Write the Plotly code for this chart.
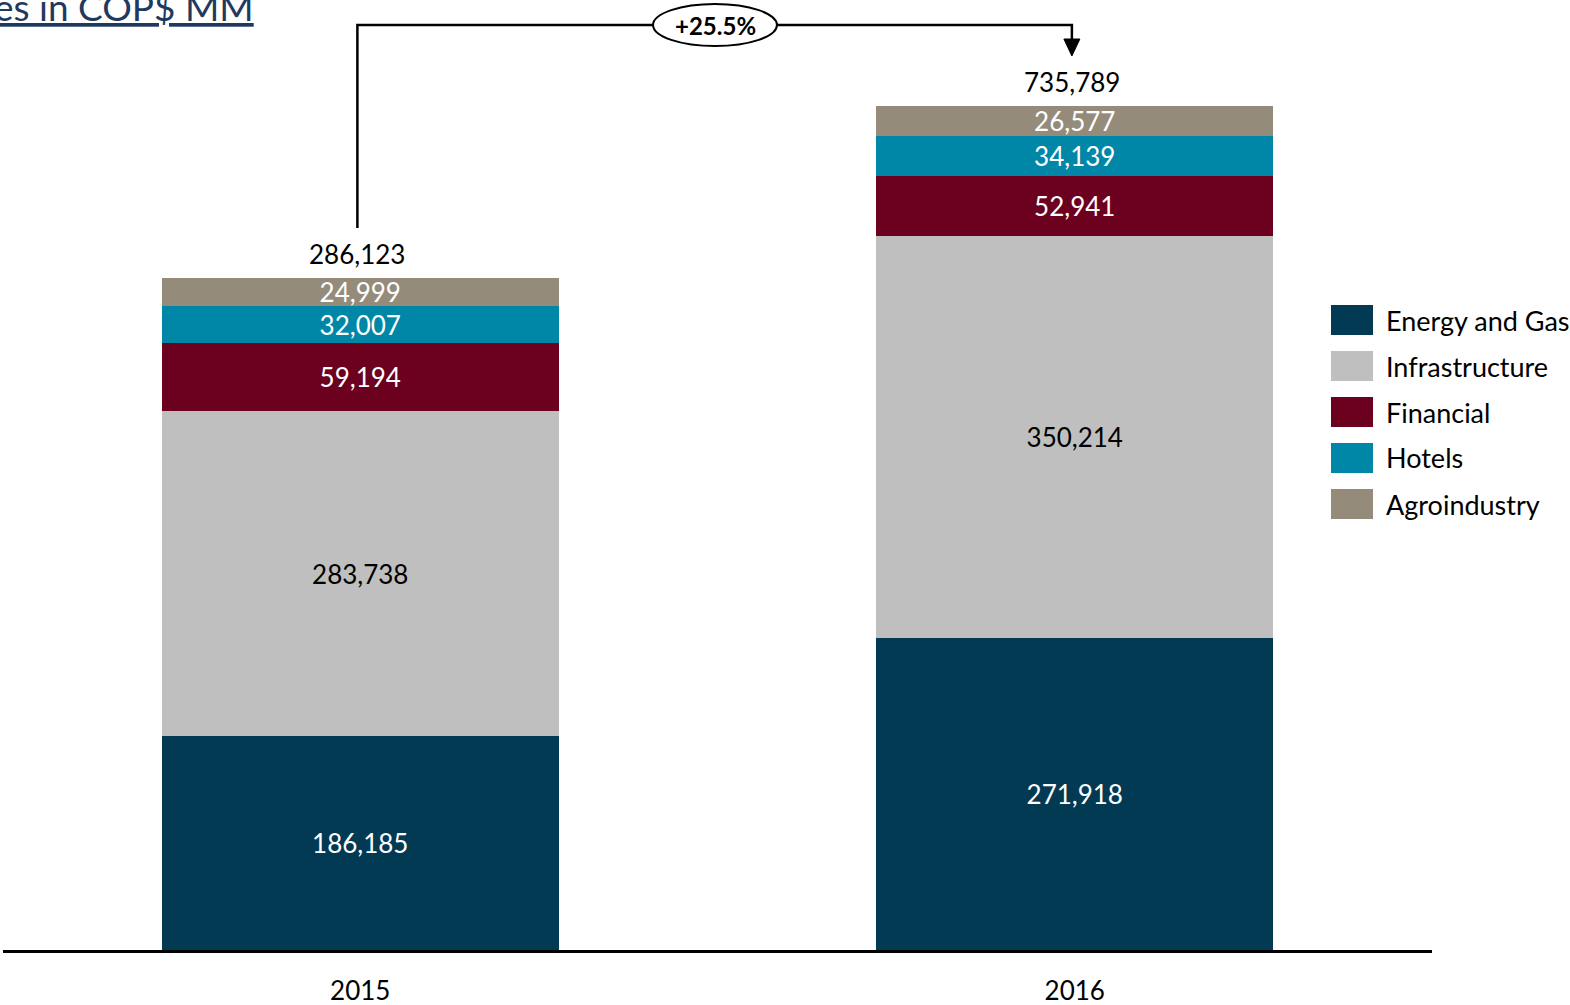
import plotly.graph_objects as go

# Revenue by business line, COP$ MM
years = ["2015", "2016"]
segments = ["Energy and Gas", "Infrastructure", "Financial", "Hotels", "Agroindustry"]
energy_gas = [186185, 271918]
infrastructure = [283738, 350214]
financial = [59194, 52941]
hotels = [32007, 34139]
agroindustry = [24999, 26577]
total_labels = ["286,123", "735,789"]
growth_label = "+25.5%"

colors = ["#023A54", "#BFBFBF", "#6B001F", "#0087A7", "#958B7B"]
label_colors = ["white", "black", "white", "white", "white"]
series = [energy_gas, infrastructure, financial, hotels, agroindustry]

totals = [sum(s[i] for s in series) for i in range(len(years))]

FONT = "Lato"
W, H = 1570, 1005
M_L, M_R, M_T, M_B = 3, 138, 0, 55
PLOT_H = H - M_T - M_B
ymax = totals[1] * PLOT_H / 844.0


def py(pix):
    """Vertical pixel position -> y data value."""
    return (PLOT_H - (pix - M_T)) * ymax / PLOT_H


def pxp(pix):
    """Horizontal pixel position -> paper x."""
    return (pix - M_L) / (W - M_L - M_R)


def pyp(pix):
    """Vertical pixel position -> paper y."""
    return (PLOT_H - (pix - M_T)) / PLOT_H


fig = go.Figure()
for name, vals, col, lc in zip(segments, series, colors, label_colors):
    fig.add_trace(go.Bar(
        x=years, y=vals, name=name,
        marker=dict(color=col, line=dict(width=0)),
        width=0.555,
        text=[f"{v:,}" for v in vals],
        textposition="inside",
        insidetextanchor="middle",
        textangle=0,
        textfont=dict(family=FONT, size=26, color=lc),
        hoverinfo="skip",
        showlegend=False,
    ))

shapes = []
annotations = []

# Totals above the bars
for i, (tot, lbl) in enumerate(zip(totals, total_labels)):
    annotations.append(dict(
        x=i - 0.004, y=tot, xref="x", yref="y", text=lbl, showarrow=False,
        yanchor="bottom", yshift=6,
        font=dict(family=FONT, size=26, color="black"),
    ))

# Growth connector with arrow
x0c, x1c = -0.004, 0.996
y_top = py(25)
shapes.append(dict(
    type="path", xref="x", yref="y",
    path=f"M {x0c},{py(228)} L {x0c},{y_top} L {x1c},{y_top} L {x1c},{py(42)}",
    line=dict(color="black", width=2.5),
))
hw = 8 / 715
shapes.append(dict(
    type="path", xref="x", yref="y",
    path=f"M {x1c - hw},{py(39)} L {x1c + hw},{py(39)} L {x1c},{py(56)} Z",
    fillcolor="black", line=dict(color="black", width=1),
))
cx = (714 - 359) / 715
hwx = 62 / 715
shapes.append(dict(
    type="circle", xref="x", yref="y",
    x0=cx - hwx, x1=cx + hwx, y0=py(46), y1=py(4),
    fillcolor="white", line=dict(color="black", width=2),
))
annotations.append(dict(
    x=cx, y=y_top, xref="x", yref="y", text=f"<b>{growth_label}</b>",
    showarrow=False, font=dict(family=FONT, size=24, color="black"),
))

# Custom legend
for i, (name, col) in enumerate(zip(segments, colors)):
    cy = 320 + 46 * i
    shapes.append(dict(
        type="rect", xref="paper", yref="paper",
        x0=pxp(1331), x1=pxp(1373), y0=pyp(cy + 15), y1=pyp(cy - 15),
        fillcolor=col, line=dict(width=0),
    ))
    annotations.append(dict(
        x=pxp(1384), y=pyp(cy), xref="paper", yref="paper", text=name,
        showarrow=False, xanchor="left", yanchor="middle",
        font=dict(family=FONT, size=27, color="black"),
    ))

# Title (runs off the left edge)
annotations.append(dict(
    x=pxp(256), y=pyp(31), xref="paper", yref="paper",
    text="<u>es in COP$ MM</u>", showarrow=False,
    xanchor="right", yanchor="bottom",
    font=dict(family=FONT, size=37, color="#1F3A5F"),
))

fig.update_layout(
    barmode="stack",
    width=W, height=H,
    margin=dict(l=M_L, r=M_R, t=M_T, b=M_B),
    paper_bgcolor="white", plot_bgcolor="white",
    bargap=0.445,
    uniformtext=dict(minsize=26, mode="show"),
    showlegend=False,
    shapes=shapes,
    annotations=annotations,
    xaxis=dict(
        type="category", range=[-0.5, 1.5],
        showline=True, linecolor="black", linewidth=2.5,
        showgrid=False, zeroline=False, ticks="",
        ticklabelstandoff=16,
        tickfont=dict(family=FONT, size=26, color="black"),
    ),
    yaxis=dict(range=[0, ymax], visible=False, fixedrange=True),
    font=dict(family=FONT),
)

fig.write_html("out.html")
